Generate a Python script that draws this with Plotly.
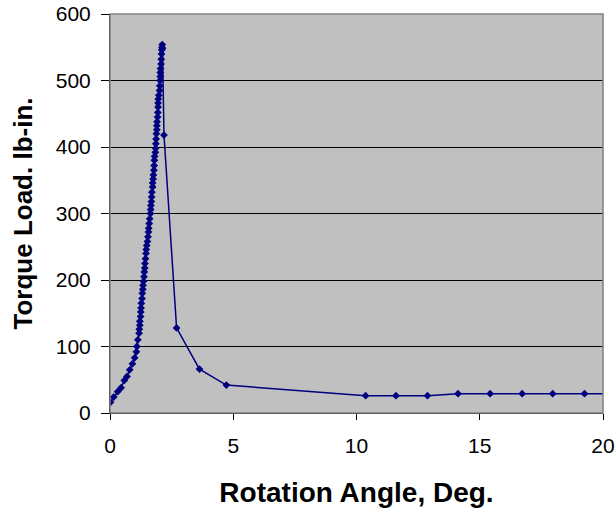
import plotly.graph_objects as go

angle = [0.02, 0.15, 0.31, 0.45, 0.58, 0.69, 0.80, 0.91, 1.00, 1.07, 1.09, 1.13,
         1.18, 1.19, 1.21, 1.21, 1.24, 1.25, 1.26, 1.27, 1.30, 1.31, 1.33, 1.34, 1.36,
         1.38, 1.39, 1.41, 1.42, 1.44, 1.46, 1.47, 1.49, 1.52, 1.54, 1.56, 1.57, 1.59,
         1.61, 1.64, 1.65, 1.66, 1.68, 1.69, 1.70, 1.73, 1.73, 1.75, 1.76, 1.78, 1.79,
         1.80, 1.81, 1.84, 1.85, 1.86, 1.87, 1.88, 1.90, 1.90, 1.91, 1.93, 1.94, 1.95,
         1.95, 1.96, 1.98, 2.01, 2.02, 2.03, 2.04, 2.04, 2.05, 2.07, 2.08, 2.09, 2.10,
         2.11, 2.12, 2.13,
         2.19, 2.70, 3.63, 4.72, 10.37, 11.60, 12.88, 14.12, 15.42, 16.72, 17.96, 19.25, 20.50]
torque = [16, 24, 32, 38, 49, 55, 65, 74, 83, 92, 100, 110,
          120, 126, 132, 138, 145, 152, 158, 165, 172, 180, 186, 192, 198,
          205, 212, 218, 225, 232, 240, 246, 252, 258, 265, 272, 278, 285,
          292, 300, 306, 312, 318, 325, 332, 340, 346, 352, 358, 365, 372,
          380, 386, 392, 398, 405, 412, 420, 426, 432, 438, 445, 452, 460,
          466, 472, 478, 485, 492, 500, 506, 512, 518, 525, 532, 540, 546,
          550, 554, 548,
          418, 128, 66, 42, 26, 26, 26, 29, 29, 29, 29, 29, 29]

x_ticks = [0, 5, 10, 15, 20]
y_ticks = [0, 100, 200, 300, 400, 500, 600]

FONT = "Arial, Liberation Sans, sans-serif"
NAVY = "#000080"

fig = go.Figure()
fig.add_trace(go.Scatter(
    x=angle, y=torque, mode="lines+markers",
    line=dict(color=NAVY, width=1.5),
    marker=dict(symbol="diamond", size=6, color=NAVY),
    cliponaxis=True, showlegend=False,
))

fig.update_layout(
    width=616, height=508,
    margin=dict(l=110, r=13, t=14, b=95, autoexpand=False),
    paper_bgcolor="white", plot_bgcolor="#C0C0C0",
    font=dict(family=FONT, size=21, color="black"),
    xaxis=dict(
        range=[0, 20], tickvals=x_ticks, ticks="outside", ticklen=6,
        tickcolor="black", showgrid=False, zeroline=False, automargin=False,
        showline=True, linecolor="black", linewidth=1, mirror=False,
        ticklabelstandoff=8,
        title=dict(text="<b>Rotation Angle, Deg.</b>", font=dict(size=28), standoff=30),
        tickfont=dict(size=21),
    ),
    yaxis=dict(
        range=[0, 600], tickvals=y_ticks, ticks="outside", ticklen=8,
        tickcolor="black", showgrid=True, gridcolor="black", gridwidth=1,
        zeroline=False, showline=True, linecolor="black", linewidth=1, automargin=False,
        ticklabelstandoff=6,
        title=dict(text="<b>Torque Load. lb-in.</b>", font=dict(size=26), standoff=15),
        tickfont=dict(size=21),
    ),
    shapes=[dict(type="rect", xref="paper", yref="paper", x0=0, x1=1, y0=0, y1=1,
                 line=dict(color="#808080", width=1.5), layer="above")],
)

fig.write_html("out.html",
               config={"displayModeBar": False},
               post_script="document.body.style.margin='0';document.body.style.padding='0';")
